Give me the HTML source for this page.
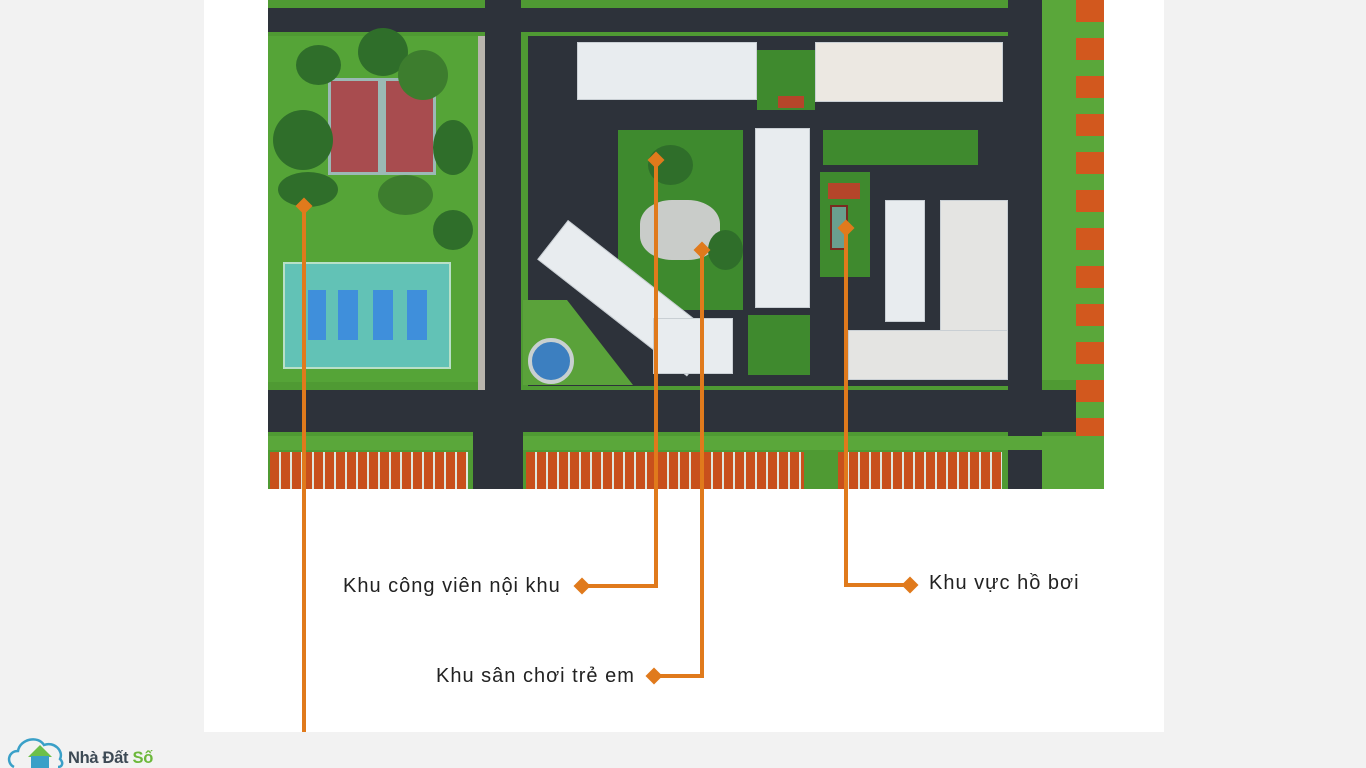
<!DOCTYPE html>
<html><head><meta charset="utf-8"><style>
body{margin:0;width:1366px;height:768px;background:#f2f2f2;position:relative;overflow:hidden;font-family:"Liberation Sans","Noto Sans CJK SC",sans-serif}
div{position:absolute;box-sizing:border-box}
.r{background:#2d323a}
.g{background:#4e9a34}
.dg{background:#2f6e2a;border-radius:50%}
.w{background:#e8ecef;border:1px solid #c9cfd4}
.o{background:#e07a1c}
.d{width:12px;height:12px;background:#e07a1c;transform:rotate(45deg)}
.t{font-size:20px;color:#222;white-space:nowrap;letter-spacing:1px}
.h{background:repeating-linear-gradient(90deg,#c8501c 0 9px,#e0e6dc 9px 11px);}
.sw{background:#b9b5ad}
</style></head><body>
<div style="left:204px;top:0;width:960px;height:732px;background:#fff"></div>
<!-- map -->
<div style="left:268px;top:0;width:836px;height:489px;background:#4f9a33;overflow:hidden">
  <div class="r" style="left:0;top:8px;width:836px;height:24px"></div>
  <div class="r" style="left:217px;top:0;width:36px;height:489px"></div>
  <div class="r" style="left:740px;top:0;width:34px;height:489px"></div>
  <div class="r" style="left:0;top:390px;width:836px;height:42px"></div>
  <div class="r" style="left:260px;top:36px;width:480px;height:350px"></div>
  <div class="g" style="left:0;top:36px;width:210px;height:346px;background:#55a437"></div>
  <div class="sw" style="left:210px;top:36px;width:7px;height:354px"></div>
  <div style="left:60px;top:78px;width:108px;height:97px;background:#a84c4f;border:3px solid #9bb9b5"></div>
  <div style="left:110px;top:78px;width:8px;height:97px;background:#9bb9b5"></div>
  <div class="dg" style="left:28px;top:45px;width:45px;height:40px"></div>
  <div class="dg" style="left:90px;top:28px;width:50px;height:48px"></div>
  <div class="dg" style="left:130px;top:50px;width:50px;height:50px;background:#3d7d2e"></div>
  <div class="dg" style="left:5px;top:110px;width:60px;height:60px"></div>
  <div class="dg" style="left:165px;top:120px;width:40px;height:55px"></div>
  <div class="dg" style="left:10px;top:172px;width:60px;height:35px"></div>
  <div class="dg" style="left:110px;top:175px;width:55px;height:40px;background:#3d7d2e"></div>
  <div class="dg" style="left:165px;top:210px;width:40px;height:40px"></div>
  <div style="left:15px;top:262px;width:168px;height:107px;background:#62c2b6;border:2px solid #b8e0c8"></div>
  <div style="left:40px;top:290px;width:18px;height:50px;background:#3f8fdb"></div>
  <div style="left:70px;top:290px;width:20px;height:50px;background:#3f8fdb"></div>
  <div style="left:105px;top:290px;width:20px;height:50px;background:#3f8fdb"></div>
  <div style="left:139px;top:290px;width:20px;height:50px;background:#3f8fdb"></div>
  <div class="w" style="left:309px;top:42px;width:180px;height:58px"></div>
  <div class="g" style="left:489px;top:50px;width:58px;height:60px;background:#3f8a2e"></div>
  <div style="left:510px;top:96px;width:26px;height:12px;background:#b5452a"></div>
  <div class="w" style="left:547px;top:42px;width:188px;height:60px;background:#ece8e2"></div>
  <div class="w" style="left:487px;top:128px;width:55px;height:180px"></div>
  <div class="g" style="left:350px;top:130px;width:125px;height:180px;background:#3e8a2e"></div>
  <div style="left:372px;top:200px;width:80px;height:60px;background:#c9ccc9;border-radius:40%"></div>
  <div class="dg" style="left:380px;top:145px;width:45px;height:40px"></div>
  <div class="dg" style="left:440px;top:230px;width:35px;height:40px"></div>
  <div class="w" style="width:190px;height:50px;transform:rotate(38deg);transform-origin:0 0;left:300px;top:220px"></div>
  <div class="w" style="left:385px;top:318px;width:80px;height:56px"></div>
  <div class="g" style="left:255px;top:300px;width:110px;height:85px;background:#5aa23a;clip-path:polygon(0 0,40% 0,100% 100%,0 100%)"></div>
  <div style="left:260px;top:338px;width:46px;height:46px;border-radius:50%;background:#3c7fc0;border:4px solid #c8d0d0"></div>
  <div class="g" style="left:555px;top:130px;width:155px;height:35px;background:#3f8a2e"></div>
  <div class="g" style="left:552px;top:172px;width:50px;height:105px;background:#3f8a2e"></div>
  <div style="left:560px;top:183px;width:32px;height:16px;background:#b5452a"></div>
  <div style="left:562px;top:205px;width:18px;height:45px;background:#6a9f8f;border:2px solid #7a2a20"></div>
  <div class="g" style="left:480px;top:315px;width:62px;height:60px;background:#3f8a2e"></div>
  <div class="w" style="left:617px;top:200px;width:40px;height:122px"></div>
  <div class="w" style="left:672px;top:200px;width:68px;height:180px;background:#e4e4e2"></div>
  <div class="w" style="left:580px;top:330px;width:160px;height:50px;background:#e4e4e2"></div>
  <div class="g" style="left:774px;top:0;width:62px;height:380px;background:#5aa73a"></div>
  <div style="left:808px;top:0;width:28px;height:489px;background:repeating-linear-gradient(180deg,#d2581e 0 22px,#5aa73a 22px 38px)"></div>
  <div class="g" style="left:774px;top:440px;width:62px;height:49px;background:#5aa73a"></div>
  <div class="g" style="left:0;top:436px;width:836px;height:14px;background:#5aa73a"></div>
  <div class="h" style="left:2px;top:452px;width:198px;height:37px"></div>
  <div class="r" style="left:205px;top:432px;width:50px;height:57px"></div>
  <div class="h" style="left:258px;top:452px;width:278px;height:37px"></div>
  <div class="h" style="left:570px;top:452px;width:164px;height:37px"></div>
</div>
<div class="o" style="left:302px;top:205px;width:4px;height:527px"></div>
<div class="d" style="left:298px;top:200px"></div>
<div class="o" style="left:654px;top:160px;width:4px;height:428px"></div>
<div class="d" style="left:650px;top:154px"></div>
<div class="o" style="left:582px;top:584px;width:76px;height:4px"></div>
<div class="d" style="left:576px;top:580px"></div>
<div class="o" style="left:700px;top:250px;width:4px;height:428px"></div>
<div class="d" style="left:696px;top:244px"></div>
<div class="o" style="left:654px;top:674px;width:50px;height:4px"></div>
<div class="d" style="left:648px;top:670px"></div>
<div class="o" style="left:844px;top:228px;width:4px;height:359px"></div>
<div class="d" style="left:840px;top:222px"></div>
<div class="o" style="left:844px;top:583px;width:66px;height:4px"></div>
<div class="d" style="left:904px;top:579px"></div>
<div class="t" style="left:343px;top:575px">Khu công viên nội khu</div>
<div class="t" style="left:436px;top:665px">Khu sân chơi trẻ em</div>
<div class="t" style="left:929px;top:572px">Khu vực hồ bơi</div>
<svg style="position:absolute;left:6px;top:733px" width="62" height="35"><path d="M8 34 C0 30 2 18 12 18 C14 6 32 2 38 12 C48 8 58 18 54 26 C58 30 56 34 52 34" fill="none" stroke="#3aa0c8" stroke-width="2.5"/><polygon points="22,24 34,12 46,24" fill="#6cc04a"/><rect x="25" y="23" width="18" height="12" fill="#3aa0c8"/></svg>
<div style="left:68px;top:749px;font-size:16.5px;font-weight:bold;color:#3d4a55;letter-spacing:-0.3px">Nhà Đất <span style="color:#6cb83a">Số</span></div>
</body></html>
